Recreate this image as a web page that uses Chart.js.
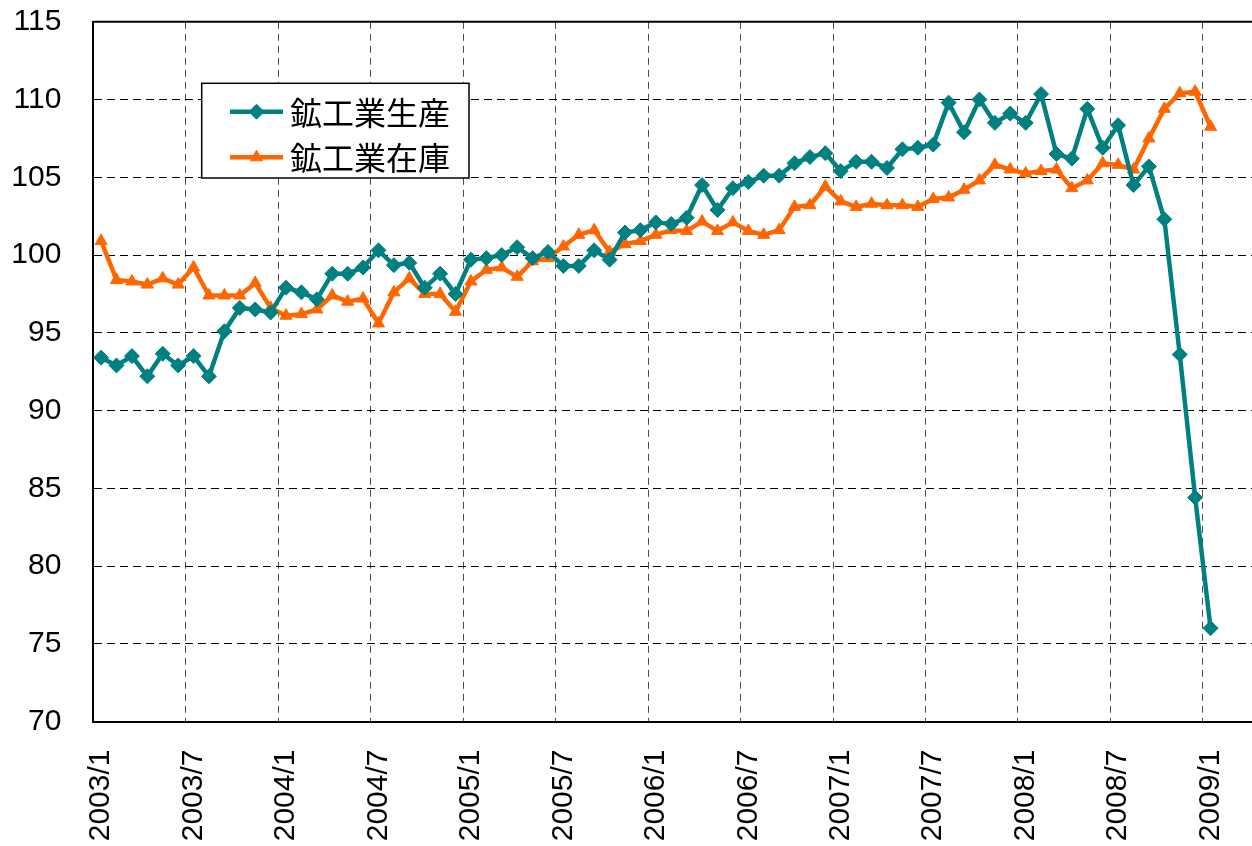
<!DOCTYPE html>
<html>
<head>
<meta charset="utf-8">
<script src="https://cdn.jsdelivr.net/npm/chart.js@4/dist/chart.umd.min.js"></script>
<style>
html,body{margin:0;padding:0;background:#fff;overflow:hidden;}
#wrap{width:1273px;height:846px;}
</style>
</head>
<body>
<div id="wrap"><canvas id="c" width="1273" height="846"></canvas></div>
<script>
const categories = [
 '2003/1','2003/2','2003/3','2003/4','2003/5','2003/6','2003/7','2003/8','2003/9','2003/10','2003/11','2003/12',
 '2004/1','2004/2','2004/3','2004/4','2004/5','2004/6','2004/7','2004/8','2004/9','2004/10','2004/11','2004/12',
 '2005/1','2005/2','2005/3','2005/4','2005/5','2005/6','2005/7','2005/8','2005/9','2005/10','2005/11','2005/12',
 '2006/1','2006/2','2006/3','2006/4','2006/5','2006/6','2006/7','2006/8','2006/9','2006/10','2006/11','2006/12',
 '2007/1','2007/2','2007/3','2007/4','2007/5','2007/6','2007/7','2007/8','2007/9','2007/10','2007/11','2007/12',
 '2008/1','2008/2','2008/3','2008/4','2008/5','2008/6','2008/7','2008/8','2008/9','2008/10','2008/11','2008/12',
 '2009/1','2009/2','2009/3','2009/4'
];
const seriesNames = ['鉱工業生産','鉱工業在庫'];
const production = [
 93.4,92.9,93.5,92.2,93.65,92.9,93.5,92.2,95.1,96.6,96.5,96.3,
 97.9,97.6,97.15,98.8,98.8,99.2,100.3,99.35,99.5,97.9,98.8,97.5,
 99.7,99.8,100.0,100.5,99.8,100.2,99.3,99.3,100.3,99.7,101.45,101.6,
 102.1,102.0,102.4,104.5,102.9,104.3,104.7,105.1,105.1,105.9,106.3,106.55,
 105.4,106.0,106.0,105.6,106.8,106.9,107.1,109.8,107.9,110.0,108.5,109.1,
 108.5,110.35,106.5,106.2,109.4,106.9,108.35,104.5,105.7,102.3,93.6,84.4,
 76.0
];
const inventory = [
 100.9,98.4,98.3,98.1,98.5,98.1,99.2,97.4,97.4,97.4,98.2,96.6,
 96.1,96.2,96.5,97.4,97.0,97.2,95.6,97.6,98.5,97.5,97.5,96.35,
 98.3,99.05,99.2,98.6,99.6,99.8,100.55,101.3,101.6,100.2,100.7,100.9,
 101.3,101.6,101.55,102.15,101.55,102.1,101.55,101.3,101.6,103.1,103.2,104.4,
 103.45,103.1,103.3,103.2,103.2,103.1,103.6,103.7,104.2,104.8,105.8,105.5,
 105.25,105.4,105.5,104.3,104.8,105.9,105.8,105.5,107.5,109.4,110.4,110.5,
 108.25
];
const yTicks = {min:70, max:115, step:5};

const TEAL = '#008080', ORANGE = '#FF6600';
const FONT = "'Liberation Sans', Arial, sans-serif";

const legendPlugin = {
  id: 'boxLegend',
  afterDraw(chart) {
    const ctx = chart.ctx;
    const area = chart.chartArea;
    ctx.save();
    ctx.strokeStyle = '#000'; ctx.lineWidth = 2;
    ctx.beginPath(); ctx.moveTo(area.left, area.top); ctx.lineTo(area.right, area.top); ctx.stroke();
    const bx = 201.7, by = 83.3, bw = 267.3, bh = 94.7;
    ctx.fillStyle = '#fff';
    ctx.fillRect(bx, by, bw, bh);
    ctx.lineWidth = 1.5; ctx.strokeStyle = '#000';
    ctx.strokeRect(bx, by, bw, bh);
    const rows = [
      {y: 111.7, color: TEAL, style: 'rectRot', r: 7.5},
      {y: 157.3, color: ORANGE, style: 'triangle', r: 7}
    ];
    rows.forEach((row, i) => {
      ctx.strokeStyle = row.color; ctx.lineWidth = 4.5;
      ctx.beginPath(); ctx.moveTo(230, row.y); ctx.lineTo(283, row.y); ctx.stroke();
      ctx.fillStyle = row.color; ctx.lineWidth = 1;
      Chart.helpers.drawPoint(ctx, {pointStyle: row.style, radius: row.r, rotation: 0, borderWidth: 1}, 256.5, row.y);
      ctx.fillStyle = '#000';
      ctx.font = "32px 'Noto Sans CJK JP', sans-serif";
      ctx.textBaseline = 'middle'; ctx.textAlign = 'left';
      ctx.fillText(seriesNames[i], 290, row.y + 1);
    });
    ctx.restore();
  }
};

new Chart(document.getElementById('c'), {
  type: 'line',
  data: {
    labels: categories,
    datasets: [
      {label: seriesNames[0], data: production, borderColor: TEAL, backgroundColor: TEAL,
       borderWidth: 4.5, pointStyle: 'rectRot', pointRadius: 7.5, pointBorderWidth: 1,
       pointBackgroundColor: TEAL, pointBorderColor: TEAL, tension: 0, fill: false},
      {label: seriesNames[1], data: inventory, borderColor: ORANGE, backgroundColor: ORANGE,
       borderWidth: 4.5, pointStyle: 'triangle', pointRadius: 7, pointBorderWidth: 1,
       pointBackgroundColor: ORANGE, pointBorderColor: ORANGE, tension: 0, fill: false}
    ]
  },
  options: {
    responsive: false,
    animation: false,
    layout: {padding: {top: 21.8, left: 0, right: 0, bottom: 0}},
    plugins: {legend: {display: false}, tooltip: {enabled: false}},
    scales: {
      x: {
        type: 'category',
        offset: true,
        grid: {
          offset: true,
          drawTicks: false,
          tickLength: 0,
          lineWidth: 1,
          color: (c) => (c.index > 0 && c.index % 6 === 0) ? '#4d4d4d' : 'rgba(0,0,0,0)'
        },
        border: {display: true, color: '#000', width: 2, dash: [7, 5]},
        ticks: {
          autoSkip: false,
          maxRotation: 90, minRotation: 90,
          padding: 28,
          color: '#000',
          font: {family: FONT, size: 30},
          callback: function(v, i) { return i % 6 === 0 ? this.getLabelForValue(v) : ''; }
        },
        afterFit: (s) => { s.height = 124.5; s.paddingLeft = 0; s.paddingRight = 0; s.paddingTop = 0; s.paddingBottom = 0; }
      },
      y: {
        min: yTicks.min, max: yTicks.max,
        grid: {drawTicks: false, tickLength: 0, color: '#000', lineWidth: 1},
        border: {display: true, color: '#000', width: 2, dash: [8, 5]},
        ticks: {stepSize: yTicks.step, padding: 32, color: '#000', font: {family: FONT, size: 30}},
        afterFit: (s) => { s.width = 93.4; s.paddingLeft = 0; s.paddingRight = 0; s.paddingTop = 0; s.paddingBottom = 0; }
      }
    }
  },
  plugins: [legendPlugin]
});
</script>
</body>
</html>
